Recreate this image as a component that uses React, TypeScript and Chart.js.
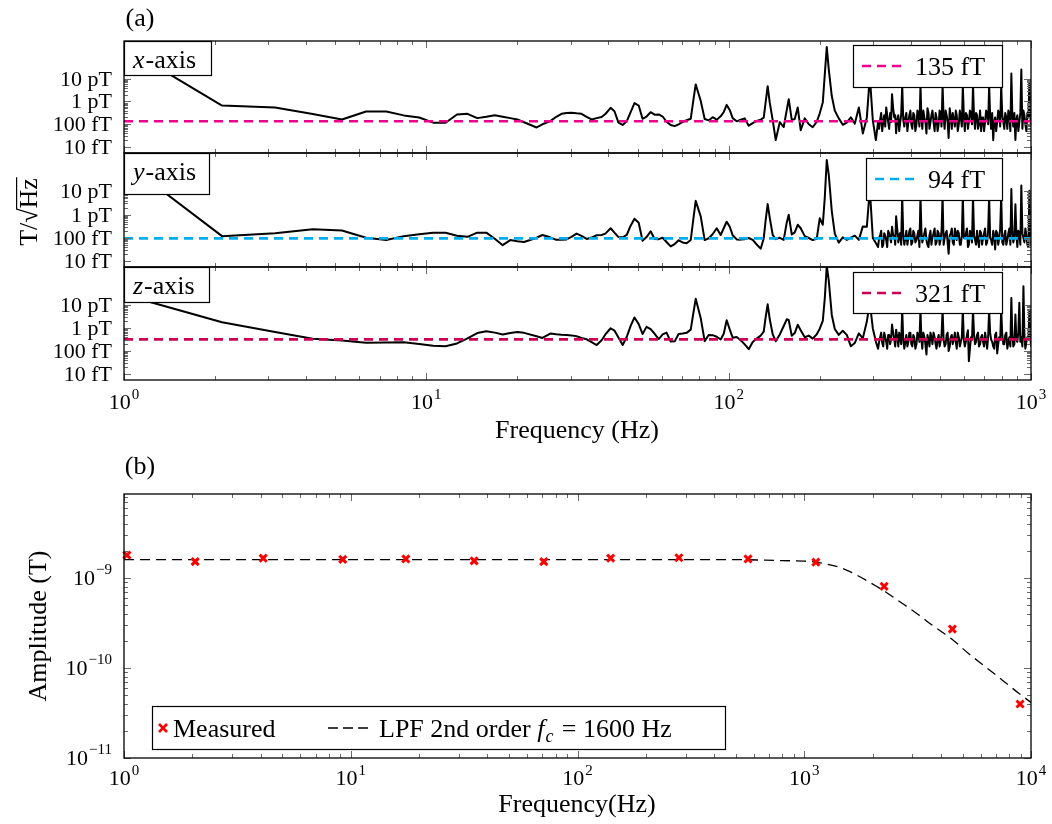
import React, { useEffect, useRef } from "react";
import { Chart, registerables } from "chart.js";

Chart.register(...registerables);

const SERIF = '"Liberation Serif", "DejaVu Serif", serif';
const W = 1052;
const H = 824;

// ---------------- (a) noise spectra ----------------
// frequency grid (Hz)
const lowFreqs = [1.05, 2.11, 3.16, 4.21, 5.26, 6.32, 7.37, 8.42, 9.47, 10.53, 11.58, 12.63, 13.68, 14.74, 15.79, 16.84, 17.89, 18.95, 20.0, 21.05, 23.16, 24.21];
const midFreqs = [25.7, 26.9, 28.0, 29.1, 30.2, 31.4, 32.6, 33.9, 35.2, 36.6, 38.0, 39.1, 40.7, 41.9, 43.2, 44.6, 46.0, 47.4, 48.8, 50.4, 51.9, 53.5, 55.2, 56.9, 58.7, 60.5, 62.3, 64.3, 66.3, 68.3, 70.4, 72.6, 74.9, 76.6, 77.8, 79.0, 80.8, 83.3, 85.9, 88.5, 91.3, 94.1, 96.3, 98.5, 100.8, 103.1, 106.3, 109.6, 113.0, 116.5, 120.1, 123.8, 127.6, 130.6, 132.6, 134.6, 136.7, 139.9, 143.1, 147.6, 152.1, 155.6, 158.0, 161.7, 165.4, 169.2, 173.1, 178.5, 184.1, 189.7, 195.6, 200.1, 204.8, 207.9, 211.1, 214.3, 219.3, 224.4, 231.3, 238.5, 245.9, 253.5, 261.4, 269.5, 277.8, 286.4, 293.0, 299.8, 306.8];
const highFreqs = [312, 317, 322, 327, 332, 337, 342, 347, 353, 358, 364, 369, 375, 381, 387, 393, 399, 405, 411, 418, 424, 431, 437, 444, 451, 458, 465, 472, 480, 487, 495, 502, 510, 518, 526, 534, 543, 551, 560, 568, 577, 586, 595, 604, 614, 623, 633, 643, 653, 663, 673, 684, 694, 705, 716, 727, 738, 750, 761, 773, 785, 797, 810, 822, 835, 848, 861, 874, 888, 901, 915, 929, 944, 958, 973, 988, 1000];
const highFreqsB = [314.5, 319.5, 324.5, 329.5, 334.5, 339.5, 344.5, 350, 355.5, 361, 366.5, 372, 378, 384, 390, 396, 402, 408, 414.5, 421, 427.5, 434, 440.5, 447.5, 454.5, 461.5, 468.5, 476, 483.5, 491, 498.5, 506, 514, 522, 530, 538.5, 547, 555.5, 564, 572.5, 581.5, 590.5, 599.5, 609, 618.5, 628, 638, 648, 658, 668, 678.5, 689, 699.5, 710.5, 721.5, 732.5, 744, 755.5, 767, 779, 791, 803.5, 816, 828.5, 841.5, 854.5, 867.5, 881, 894.5, 908, 922, 936.5, 951, 965.5, 980.5, 994];

// amplitude spectral density, log10(T/sqrt(Hz))
const xLow = [-9.78, -12.18, -12.26, -12.55, -12.79, -12.44, -12.44, -12.61, -12.70, -12.93, -12.93, -12.57, -12.54, -12.73, -12.67, -12.60, -12.67, -12.73, -12.79, -12.91, -13.14, -13.00];
const xMid = [-12.86, -12.67, -12.54, -12.51, -12.49, -12.52, -12.54, -12.67, -12.79, -12.73, -12.68, -12.55, -12.28, -12.43, -12.93, -13.03, -12.87, -12.47, -12.07, -12.18, -12.76, -12.66, -12.47, -12.58, -12.57, -12.66, -12.89, -13.03, -13.08, -13.00, -12.90, -12.82, -12.76, -11.85, -11.25, -11.54, -11.97, -12.77, -12.83, -12.69, -12.80, -12.65, -12.47, -12.15, -12.37, -12.73, -12.87, -12.80, -12.74, -13.06, -12.95, -12.85, -12.80, -12.71, -12.01, -11.33, -12.04, -12.83, -13.69, -12.91, -13.12, -12.38, -11.90, -12.81, -12.77, -12.26, -13.26, -12.74, -13.00, -13.13, -12.89, -12.52, -12.04, -10.83, -9.61, -10.58, -11.76, -12.40, -12.74, -13.02, -12.93, -12.69, -12.97, -12.26, -13.40, -12.71, -10.90, -12.83, -13.69];
const xHigh = [-12.9, -12.8, -13.3, -12.6, -12.26, -12.9, -12.5, -11.68, -12.7, -13.39, -12.6, -12.95, -11.3, -13.1, -12.5, -12.9, -12.4, -13.2, -12.6, -13.0, -12.5, -11.3, -13.2, -12.7, -13.4, -12.5, -12.9, -12.4, -13.3, -12.7, -13.0, -12.5, -11.3, -13.2, -12.6, -13.6, -12.7, -12.5, -13.1, -12.6, -13.0, -12.7, -11.3, -13.3, -12.6, -12.9, -12.5, -11.3, -13.2, -12.6, -13.0, -13.3, -12.7, -12.9, -12.5, -11.3, -13.2, -13.7, -12.7, -12.9, -12.5, -11.3, -12.9, -12.5, -13.2, -12.6, -10.77, -13.1, -13.69, -12.6, -12.9, -10.6, -12.4, -13.0, -12.5, -11.11, -13.1];
const xHighB = [-13.2, -12.5, -12.9, -13.1, -12.6, -13.2, -12.9, -12.3, -12.6, -12.8, -13.3, -12.6, -12.8, -12.7, -13.3, -12.6, -13.0, -12.5, -13.3, -12.4, -13.1, -12.7, -12.4, -12.9, -12.3, -13.2, -12.6, -12.9, -12.5, -13.3, -12.4, -13.1, -12.7, -12.4, -12.9, -12.3, -13.2, -12.8, -12.4, -13.3, -12.4, -13.1, -12.6, -12.5, -13.2, -12.4, -13.0, -12.7, -12.5, -13.2, -12.4, -12.7, -13.3, -12.4, -13.0, -12.6, -12.5, -12.9, -13.3, -12.4, -13.1, -12.6, -13.2, -12.7, -12.4, -13.3, -12.6, -12.5, -12.8, -13.3, -12.5, -13.2, -12.6, -13.3, -12.7, -12.5];

const yLow = [-9.93, -12.93, -12.81, -12.63, -12.69, -13.00, -13.10, -12.93, -12.85, -12.78, -12.78, -12.91, -12.96, -12.78, -12.78, -13.04, -13.32, -13.10, -13.15, -13.18, -13.00, -12.88];
const yMid = [-12.98, -13.09, -13.09, -13.07, -12.96, -12.82, -12.92, -13.05, -12.99, -12.89, -12.88, -12.82, -12.59, -12.78, -12.97, -12.98, -12.88, -12.48, -12.18, -12.35, -13.13, -12.97, -12.72, -13.05, -13.06, -13.00, -13.18, -13.37, -13.27, -13.11, -13.20, -13.24, -13.10, -12.09, -11.41, -11.68, -12.07, -13.10, -13.02, -12.85, -12.59, -12.88, -12.59, -12.31, -12.52, -12.89, -13.07, -13.08, -13.06, -13.01, -13.09, -13.29, -13.47, -13.03, -12.22, -11.55, -12.13, -12.88, -13.06, -13.00, -13.09, -12.35, -12.01, -12.86, -12.77, -12.44, -12.59, -12.93, -13.01, -13.10, -13.04, -12.16, -12.44, -11.28, -9.65, -10.28, -11.85, -12.82, -13.21, -12.98, -13.09, -12.99, -12.91, -13.09, -12.51, -12.53, -10.90, -13.01, -13.23];
const yHigh = [-13.4, -12.9, -13.4, -12.8, -13.1, -12.7, -13.0, -12.52, -12.9, -12.07, -13.2, -12.8, -11.2, -13.3, -12.7, -13.0, -12.6, -13.2, -12.8, -13.1, -12.7, -11.2, -13.2, -12.8, -13.1, -13.4, -12.7, -13.0, -12.6, -13.2, -12.8, -13.1, -11.2, -13.0, -12.7, -13.69, -12.8, -13.2, -12.6, -13.1, -12.8, -13.3, -11.2, -13.0, -12.6, -13.3, -12.8, -11.2, -13.1, -12.7, -13.4, -12.8, -13.0, -12.6, -13.2, -11.2, -13.1, -12.7, -13.5, -12.8, -13.0, -11.2, -13.3, -12.7, -13.1, -12.6, -10.9, -13.2, -11.56, -13.4, -12.8, -10.75, -13.0, -12.6, -13.3, -10.97, -13.3];
const yHighB = [-13.0, -12.7, -13.3, -12.9, -13.4, -12.8, -13.2, -12.9, -13.3, -12.6, -12.9, -13.3, -12.9, -13.0, -13.3, -12.7, -13.3, -12.7, -13.2, -12.9, -13.4, -12.7, -13.0, -12.6, -13.3, -12.9, -13.3, -12.8, -13.3, -12.7, -13.3, -12.7, -13.3, -12.8, -13.2, -12.9, -12.6, -13.3, -12.8, -12.7, -13.3, -12.9, -13.0, -12.8, -13.4, -12.7, -13.2, -12.9, -13.3, -13.1, -12.7, -13.3, -12.8, -13.3, -12.7, -13.0, -13.3, -12.9, -12.7, -13.3, -12.6, -13.2, -12.9, -13.3, -12.8, -13.3, -12.7, -13.0, -12.8, -12.7, -13.3, -12.8, -13.2, -12.9, -13.4, -12.8];

const zLow = [-10.63, -11.75, -12.17, -12.47, -12.54, -12.64, -12.63, -12.62, -12.69, -12.77, -12.79, -12.67, -12.45, -12.22, -12.14, -12.20, -12.28, -12.22, -12.17, -12.21, -12.36, -12.43];
const zMid = [-12.24, -12.27, -12.29, -12.30, -12.32, -12.36, -12.43, -12.49, -12.61, -12.74, -12.53, -12.28, -12.01, -12.11, -12.41, -12.74, -12.39, -11.91, -11.54, -11.83, -12.26, -11.95, -12.05, -12.25, -12.48, -12.28, -12.20, -12.59, -12.58, -12.26, -12.24, -12.21, -12.07, -11.27, -10.73, -11.06, -11.56, -12.57, -12.30, -12.31, -12.38, -12.50, -12.25, -11.66, -12.06, -12.42, -12.39, -12.53, -12.71, -12.92, -12.61, -12.46, -12.33, -12.16, -11.51, -10.97, -11.61, -12.28, -12.57, -12.28, -11.91, -11.62, -11.65, -12.34, -12.22, -11.86, -12.10, -12.40, -12.33, -12.46, -12.27, -12.03, -11.69, -10.72, -9.30, -9.93, -11.43, -12.04, -12.30, -12.12, -12.30, -12.79, -12.65, -12.23, -12.45, -11.72, -10.89, -12.02, -12.59];
const zHigh = [-12.9, -12.4, -12.64, -12.2, -12.6, -12.3, -12.7, -11.85, -12.5, -12.07, -12.8, -12.4, -11.2, -12.9, -12.3, -12.6, -12.2, -12.8, -12.4, -12.7, -12.3, -11.2, -12.9, -12.4, -13.15, -12.5, -12.2, -12.7, -12.4, -12.9, -12.3, -12.6, -11.2, -12.8, -12.3, -13.0, -12.4, -12.7, -12.2, -12.9, -12.4, -12.6, -11.2, -12.8, -12.3, -13.44, -12.4, -11.2, -12.7, -12.3, -12.8, -12.4, -12.6, -12.2, -12.9, -11.2, -12.5, -12.8, -12.3, -13.1, -12.4, -11.2, -12.7, -12.3, -12.9, -12.4, -10.69, -12.8, -11.41, -12.6, -10.9, -12.4, -10.18, -12.9, -12.4, -11.2, -12.8];
const zHighB = [-12.6, -12.2, -12.8, -12.4, -12.9, -12.3, -12.5, -12.2, -12.8, -12.4, -12.2, -12.7, -12.5, -12.6, -12.8, -12.2, -12.7, -12.3, -12.9, -12.2, -12.6, -12.5, -12.2, -12.7, -12.3, -12.8, -12.4, -12.2, -12.7, -12.5, -12.8, -12.3, -12.5, -12.7, -12.2, -12.8, -12.3, -12.5, -12.6, -12.2, -12.8, -12.4, -12.5, -12.6, -12.1, -12.9, -12.5, -12.3, -12.6, -12.2, -12.7, -12.3, -12.8, -12.5, -12.4, -12.2, -12.6, -12.9, -12.2, -12.7, -12.5, -12.3, -12.7, -12.2, -12.6, -12.8, -12.3, -12.7, -12.5, -12.2, -12.6, -12.8, -12.3, -12.6, -12.5, -12.2];

const noiseLevels = [1.35e-13, 9.4e-14, 3.21e-13];
const noiseLabels = ["135 fT", "94 fT", "321 fT"];
const noiseColors = ["#EC008C", "#00AEEF", "#CC0055"];
const axisNames = ["x", "y", "z"];
const yTickValuesA = [1e-14, 1e-13, 1e-12, 1e-11];
const yTickLabelsA = ["10 fT", "100 fT", "1 pT", "10 pT"];
const xDecadesA = [0, 1, 2, 3];

// ---------------- (b) frequency response ----------------
const measFreqs = [1.03, 2.06, 4.11, 9.22, 17.5, 35, 71, 140, 280, 565, 1125, 2250, 4500, 8950];
const measAmps = [1.8e-9, 1.52e-9, 1.66e-9, 1.61e-9, 1.63e-9, 1.55e-9, 1.52e-9, 1.66e-9, 1.68e-9, 1.63e-9, 1.5e-9, 8.09e-10, 2.71e-10, 3.98e-11];
const lpfFreqs = [1, 10, 100, 500, 800, 1000, 1125, 1300, 1450, 1600, 1750, 1900, 2080, 2280, 2500, 2700, 3200, 3700, 4470, 5300, 6300, 7500, 8830, 10000];
const lpfAmps = [1.6e-9, 1.6e-9, 1.6e-9, 1.6e-9, 1.56e-9, 1.54e-9, 1.5e-9, 1.4e-9, 1.3e-9, 1.17e-9, 1.04e-9, 9.25e-10, 8.1e-10, 7.05e-10, 6.0e-10, 5.25e-10, 3.88e-10, 2.94e-10, 2.1e-10, 1.45e-10, 1.03e-10, 7.28e-11, 5.24e-11, 4.15e-11];
const xDecadesB = [0, 1, 2, 3, 4];
const yDecadesB = [-11, -10, -9];

// ---------------- layout ----------------
const PLOT_L = 124;
const PLOT_R = 1031;
const PANEL_MIN = 5.5e-15;
const PANEL_MAX = 4.5e-10;
const TICK_FS = 22;
const EXP_FS = 15;
const MAIN_FS = 26;
const TICK_COLOR = "#6a6a6a";
const MAJOR = 7;
const MINOR = 4;

type Geo = {
  canvasTop: number;
  canvasH: number;
  plotTop: number;
  plotBottom: number;
  nameBox: number[];
  legBox: number[];
};
const geos: Geo[] = [
  { canvasTop: 0, canvasH: 160, plotTop: 41, plotBottom: 153, nameBox: [124, 41, 212, 76], legBox: [853, 45, 1003, 88] },
  { canvasTop: 150, canvasH: 125, plotTop: 153, plotBottom: 267, nameBox: [124, 153, 210, 195], legBox: [866, 158, 1003, 201] },
  { canvasTop: 262, canvasH: 185, plotTop: 267, plotBottom: 380, nameBox: [124, 267, 210, 303], legBox: [853, 272, 1003, 314] },
];
const B_TOP = 445;
const B_H = H - B_TOP;
const B_PLOT_TOP = 494;
const B_PLOT_BOTTOM = 758;

const font = (size: number, italic = false) => `${italic ? "italic " : ""}${size}px ${SERIF}`;
const snap = (p: number) => Math.round(p) + 0.5;

function drawPow(ctx: CanvasRenderingContext2D, exp: string, x: number, baseline: number, align: "center" | "right", lift: number) {
  ctx.font = font(TICK_FS);
  const wb = ctx.measureText("10").width;
  ctx.font = font(EXP_FS);
  const we = ctx.measureText(exp).width;
  const total = wb + we + 1;
  const x0 = align === "center" ? x - total / 2 : x - total;
  ctx.textAlign = "left";
  ctx.textBaseline = "alphabetic";
  ctx.font = font(TICK_FS);
  ctx.fillText("10", x0, baseline);
  ctx.font = font(EXP_FS);
  ctx.fillText(exp, x0 + wb + 1, baseline - lift);
}

function whiteBox(ctx: CanvasRenderingContext2D, x0: number, y0: number, x1: number, y1: number) {
  ctx.fillStyle = "#fff";
  ctx.fillRect(x0, y0, x1 - x0, y1 - y0);
  ctx.strokeStyle = "#000";
  ctx.lineWidth = 1.2;
  ctx.setLineDash([]);
  ctx.strokeRect(x0 + 0.5, y0 + 0.5, x1 - x0 - 1, y1 - y0 - 1);
}

function panelDecor(i: number) {
  const g = geos[i];
  const off = g.canvasTop;
  return {
    id: "panelDecor" + i,
    afterDatasetsDraw(chart: any) {
      const ctx: CanvasRenderingContext2D = chart.ctx;
      const a = chart.chartArea;
      const xs = chart.scales.x;
      const ys = chart.scales.y;
      ctx.save();
      // ticks (inward, all four sides)
      ctx.strokeStyle = TICK_COLOR;
      ctx.lineWidth = 1;
      ctx.setLineDash([]);
      ctx.beginPath();
      for (const e of xDecadesA) {
        for (let k = 1; k <= 9; k++) {
          const v = k * Math.pow(10, e);
          if (v > 1000.001) continue;
          const p = snap(xs.getPixelForValue(v));
          const len = k === 1 ? MAJOR : MINOR;
          ctx.moveTo(p, a.top);
          ctx.lineTo(p, a.top + len);
          ctx.moveTo(p, a.bottom);
          ctx.lineTo(p, a.bottom - len);
        }
      }
      for (let e = -14; e <= -11; e++) {
        for (let k = 1; k <= 9; k++) {
          if (e === -11 && k > 1) continue;
          const v = k * Math.pow(10, e);
          const p = snap(ys.getPixelForValue(v));
          const len = k === 1 ? MAJOR : MINOR;
          ctx.moveTo(a.left, p);
          ctx.lineTo(a.left + len, p);
          ctx.moveTo(a.right, p);
          ctx.lineTo(a.right - len, p);
        }
      }
      ctx.stroke();

      // axis-name box
      const [nx0, ny0, nx1, ny1] = g.nameBox;
      whiteBox(ctx, nx0, ny0 - off, nx1, ny1 - off);
      ctx.fillStyle = "#000";
      ctx.textAlign = "left";
      ctx.textBaseline = "alphabetic";
      ctx.font = font(MAIN_FS, true);
      ctx.fillText(axisNames[i], nx0 + 9, ny0 - off + 27);
      const wn = ctx.measureText(axisNames[i]).width;
      ctx.font = font(MAIN_FS);
      ctx.fillText("-axis", nx0 + 9 + wn + 1, ny0 - off + 27);

      // legend box
      const [lx0, ly0, lx1, ly1] = g.legBox;
      whiteBox(ctx, lx0, ly0 - off, lx1, ly1 - off);
      ctx.strokeStyle = noiseColors[i];
      ctx.lineWidth = 2.6;
      ctx.setLineDash([9, 6]);
      ctx.beginPath();
      ctx.moveTo(lx0 + 9, ly0 - off + 21);
      ctx.lineTo(lx0 + 49, ly0 - off + 21);
      ctx.stroke();
      ctx.setLineDash([]);
      ctx.fillStyle = "#000";
      ctx.font = font(MAIN_FS);
      ctx.textAlign = "left";
      ctx.fillText(noiseLabels[i], lx0 + 62, ly0 - off + 30);

      // frame
      ctx.strokeStyle = "#000";
      ctx.lineWidth = 1.3;
      ctx.strokeRect(a.left, a.top, a.right - a.left, a.bottom - a.top);

      // y tick labels
      ctx.fillStyle = "#000";
      ctx.font = font(TICK_FS);
      ctx.textAlign = "right";
      ctx.textBaseline = "alphabetic";
      yTickValuesA.forEach((v, j) => {
        ctx.fillText(yTickLabelsA[j], a.left - 12, ys.getPixelForValue(v) + 7);
      });

      if (i === 0) {
        ctx.font = font(MAIN_FS);
        ctx.textAlign = "center";
        ctx.fillText("(a)", 140, 26 - off);
      }
      if (i === 1) {
        ctx.save();
        ctx.translate(37, 212 - off);
        ctx.rotate(-Math.PI / 2);
        ctx.font = font(MAIN_FS);
        const w1 = ctx.measureText("T/").width;
        const w2 = ctx.measureText("\u221A").width;
        const w3 = ctx.measureText("Hz").width;
        const asc = ctx.measureText("\u221A").actualBoundingBoxAscent;
        const tot = w1 + w2 + w3;
        const s = -tot / 2;
        ctx.textAlign = "left";
        ctx.fillText("T/", s, 0);
        ctx.fillText("\u221A", s + w1, 0);
        ctx.fillText("Hz", s + w1 + w2, 0);
        ctx.strokeStyle = "#000";
        ctx.lineWidth = 1.2;
        ctx.beginPath();
        ctx.moveTo(s + w1 + w2 - 1, -asc + 0.6);
        ctx.lineTo(s + tot + 1, -asc + 0.6);
        ctx.stroke();
        ctx.restore();
      }
      if (i === 2) {
        ctx.fillStyle = "#000";
        xDecadesA.forEach((e) => {
          drawPow(ctx, String(e), xs.getPixelForValue(Math.pow(10, e)), 409 - off, "center", 10);
        });
        ctx.font = font(MAIN_FS);
        ctx.textAlign = "center";
        ctx.fillText("Frequency (Hz)", 577, 438 - off);
      }
      ctx.restore();
    },
  };
}

function makePanel(canvas: HTMLCanvasElement, i: number) {
  const g = geos[i];
  const off = g.canvasTop;
  const freqs = [...lowFreqs, ...midFreqs, ...highFreqs, ...highFreqsB];
  const series = [
    [...xLow, ...xMid, ...xHigh, ...xHighB],
    [...yLow, ...yMid, ...yHigh, ...yHighB],
    [...zLow, ...zMid, ...zHigh, ...zHighB],
  ][i];
  const pts = freqs
    .map((f, j) => ({ x: f, y: Math.pow(10, series[j]) }))
    .sort((p, q) => p.x - q.x);
  return new Chart(canvas, {
    type: "line",
    data: {
      datasets: [
        {
          data: [
            { x: 1, y: noiseLevels[i] },
            { x: 1000, y: noiseLevels[i] },
          ],
          borderColor: noiseColors[i],
          borderWidth: 2.6,
          borderDash: [9, 6],
          pointRadius: 0,
          clip: 0,
        } as any,
        {
          data: pts,
          borderColor: "#000",
          borderWidth: 2,
          pointRadius: 0,
          tension: 0,
          borderJoinStyle: "round",
          clip: 0,
        } as any,
      ],
    },
    options: {
      responsive: false,
      maintainAspectRatio: false,
      animation: false,
      devicePixelRatio: 1,
      events: [],
      layout: {
        padding: { left: PLOT_L, right: W - PLOT_R, top: g.plotTop - off, bottom: off + g.canvasH - g.plotBottom },
      },
      scales: {
        x: { type: "logarithmic", min: 1, max: 1000, display: false },
        y: { type: "logarithmic", min: PANEL_MIN, max: PANEL_MAX, display: false },
      },
      plugins: { legend: { display: false }, tooltip: { enabled: false } },
    } as any,
    plugins: [panelDecor(i)],
  });
}

const bottomDecor = {
  id: "bottomDecor",
  afterDatasetsDraw(chart: any) {
    const ctx: CanvasRenderingContext2D = chart.ctx;
    const a = chart.chartArea;
    const xs = chart.scales.x;
    const ys = chart.scales.y;
    const off = B_TOP;
    ctx.save();
    ctx.strokeStyle = TICK_COLOR;
    ctx.lineWidth = 1;
    ctx.setLineDash([]);
    ctx.beginPath();
    for (const e of xDecadesB) {
      for (let k = 1; k <= 9; k++) {
        const v = k * Math.pow(10, e);
        if (v > 10000.01) continue;
        const p = snap(xs.getPixelForValue(v));
        const len = k === 1 ? MAJOR : MINOR;
        ctx.moveTo(p, a.top);
        ctx.lineTo(p, a.top + len);
        ctx.moveTo(p, a.bottom);
        ctx.lineTo(p, a.bottom - len);
      }
    }
    for (const e of yDecadesB) {
      for (let k = 1; k <= 9; k++) {
        const v = k * Math.pow(10, e);
        if (v > ys.max) continue;
        const p = snap(ys.getPixelForValue(v));
        const len = k === 1 ? MAJOR : MINOR;
        ctx.moveTo(a.left, p);
        ctx.lineTo(a.left + len, p);
        ctx.moveTo(a.right, p);
        ctx.lineTo(a.right - len, p);
      }
    }
    ctx.stroke();

    // legend
    whiteBox(ctx, 152, 706 - off, 726, 750 - off);
    const ly = 728 - off;
    ctx.strokeStyle = "#ff0000";
    ctx.lineWidth = 2.6;
    ctx.beginPath();
    ctx.moveTo(159, ly - 4);
    ctx.lineTo(167, ly + 4);
    ctx.moveTo(167, ly - 4);
    ctx.lineTo(159, ly + 4);
    ctx.stroke();
    ctx.fillStyle = "#000";
    ctx.textAlign = "left";
    ctx.textBaseline = "alphabetic";
    ctx.font = font(MAIN_FS);
    ctx.fillText("Measured", 173, ly + 9);
    ctx.strokeStyle = "#000";
    ctx.lineWidth = 1.3;
    ctx.setLineDash([10, 5]);
    ctx.beginPath();
    ctx.moveTo(328, ly);
    ctx.lineTo(368, ly);
    ctx.stroke();
    ctx.setLineDash([]);
    let tx = 379;
    const t1 = "LPF 2nd order ";
    ctx.font = font(MAIN_FS);
    ctx.fillText(t1, tx, ly + 9);
    tx += ctx.measureText(t1).width;
    ctx.font = font(MAIN_FS, true);
    ctx.fillText("f", tx, ly + 9);
    tx += ctx.measureText("f").width + 1;
    ctx.font = font(18, true);
    ctx.fillText("c", tx, ly + 14);
    tx += ctx.measureText("c").width + 2;
    ctx.font = font(MAIN_FS);
    ctx.fillText(" = 1600 Hz", tx, ly + 9);

    // frame
    ctx.strokeStyle = "#000";
    ctx.lineWidth = 1.3;
    ctx.strokeRect(a.left, a.top, a.right - a.left, a.bottom - a.top);

    // tick labels
    ctx.fillStyle = "#000";
    xDecadesB.forEach((e) => {
      drawPow(ctx, String(e), xs.getPixelForValue(Math.pow(10, e)), 785 - off, "center", 10);
    });
    yDecadesB.forEach((e) => {
      drawPow(ctx, "\u2212" + String(-e), a.left - 12, ys.getPixelForValue(Math.pow(10, e)) + 7, "right", 11);
    });

    // titles
    ctx.font = font(MAIN_FS);
    ctx.textAlign = "center";
    ctx.textBaseline = "alphabetic";
    ctx.fillText("(b)", 140, 474 - off);
    ctx.fillText("Frequency(Hz)", 577, 812 - off);
    ctx.save();
    ctx.translate(46, 626 - off);
    ctx.rotate(-Math.PI / 2);
    ctx.fillText("Amplitude (T)", 0, 0);
    ctx.restore();
    ctx.restore();
  },
};

function makeBottom(canvas: HTMLCanvasElement) {
  const meas = measFreqs.map((f, j) => ({ x: f, y: measAmps[j] }));
  const lpf = lpfFreqs.map((f, j) => ({ x: f, y: lpfAmps[j] }));
  return new Chart(canvas, {
    type: "line",
    data: {
      datasets: [
        {
          data: meas,
          showLine: false,
          pointStyle: "crossRot",
          pointRadius: 5,
          pointBorderWidth: 3,
          pointBorderColor: "#ff0000",
          pointBackgroundColor: "#ff0000",
          borderColor: "#ff0000",
          clip: false,
        } as any,
        {
          data: lpf,
          borderColor: "#000",
          borderWidth: 1.3,
          borderDash: [10, 6],
          pointRadius: 0,
          cubicInterpolationMode: "monotone",
          clip: 0,
        } as any,
      ],
    },
    options: {
      responsive: false,
      maintainAspectRatio: false,
      animation: false,
      devicePixelRatio: 1,
      events: [],
      layout: {
        padding: { left: PLOT_L, right: W - PLOT_R, top: B_PLOT_TOP - B_TOP, bottom: H - B_PLOT_BOTTOM },
      },
      scales: {
        x: { type: "logarithmic", min: 1, max: 10000, display: false },
        y: { type: "logarithmic", min: 1e-11, max: 8.58e-9, display: false },
      },
      plugins: { legend: { display: false }, tooltip: { enabled: false } },
    } as any,
    plugins: [bottomDecor],
  });
}

export default function App() {
  const r0 = useRef<HTMLCanvasElement>(null);
  const r1 = useRef<HTMLCanvasElement>(null);
  const r2 = useRef<HTMLCanvasElement>(null);
  const r3 = useRef<HTMLCanvasElement>(null);
  useEffect(() => {
    const refs = [r0, r1, r2];
    const charts: Chart[] = [];
    refs.forEach((r, i) => {
      if (r.current) charts.push(makePanel(r.current, i));
    });
    if (r3.current) charts.push(makeBottom(r3.current));
    return () => charts.forEach((c) => c.destroy());
  }, []);
  const refs = [r0, r1, r2];
  return (
    <div style={{ position: "absolute", left: 0, top: 0, width: W, height: H, background: "#fff", overflow: "hidden" }}>
      {geos.map((g, i) => (
        <canvas
          key={i}
          ref={refs[i]}
          width={W}
          height={g.canvasH}
          style={{ position: "absolute", left: 0, top: g.canvasTop, width: W, height: g.canvasH }}
        />
      ))}
      <canvas ref={r3} width={W} height={B_H} style={{ position: "absolute", left: 0, top: B_TOP, width: W, height: B_H }} />
    </div>
  );
}
